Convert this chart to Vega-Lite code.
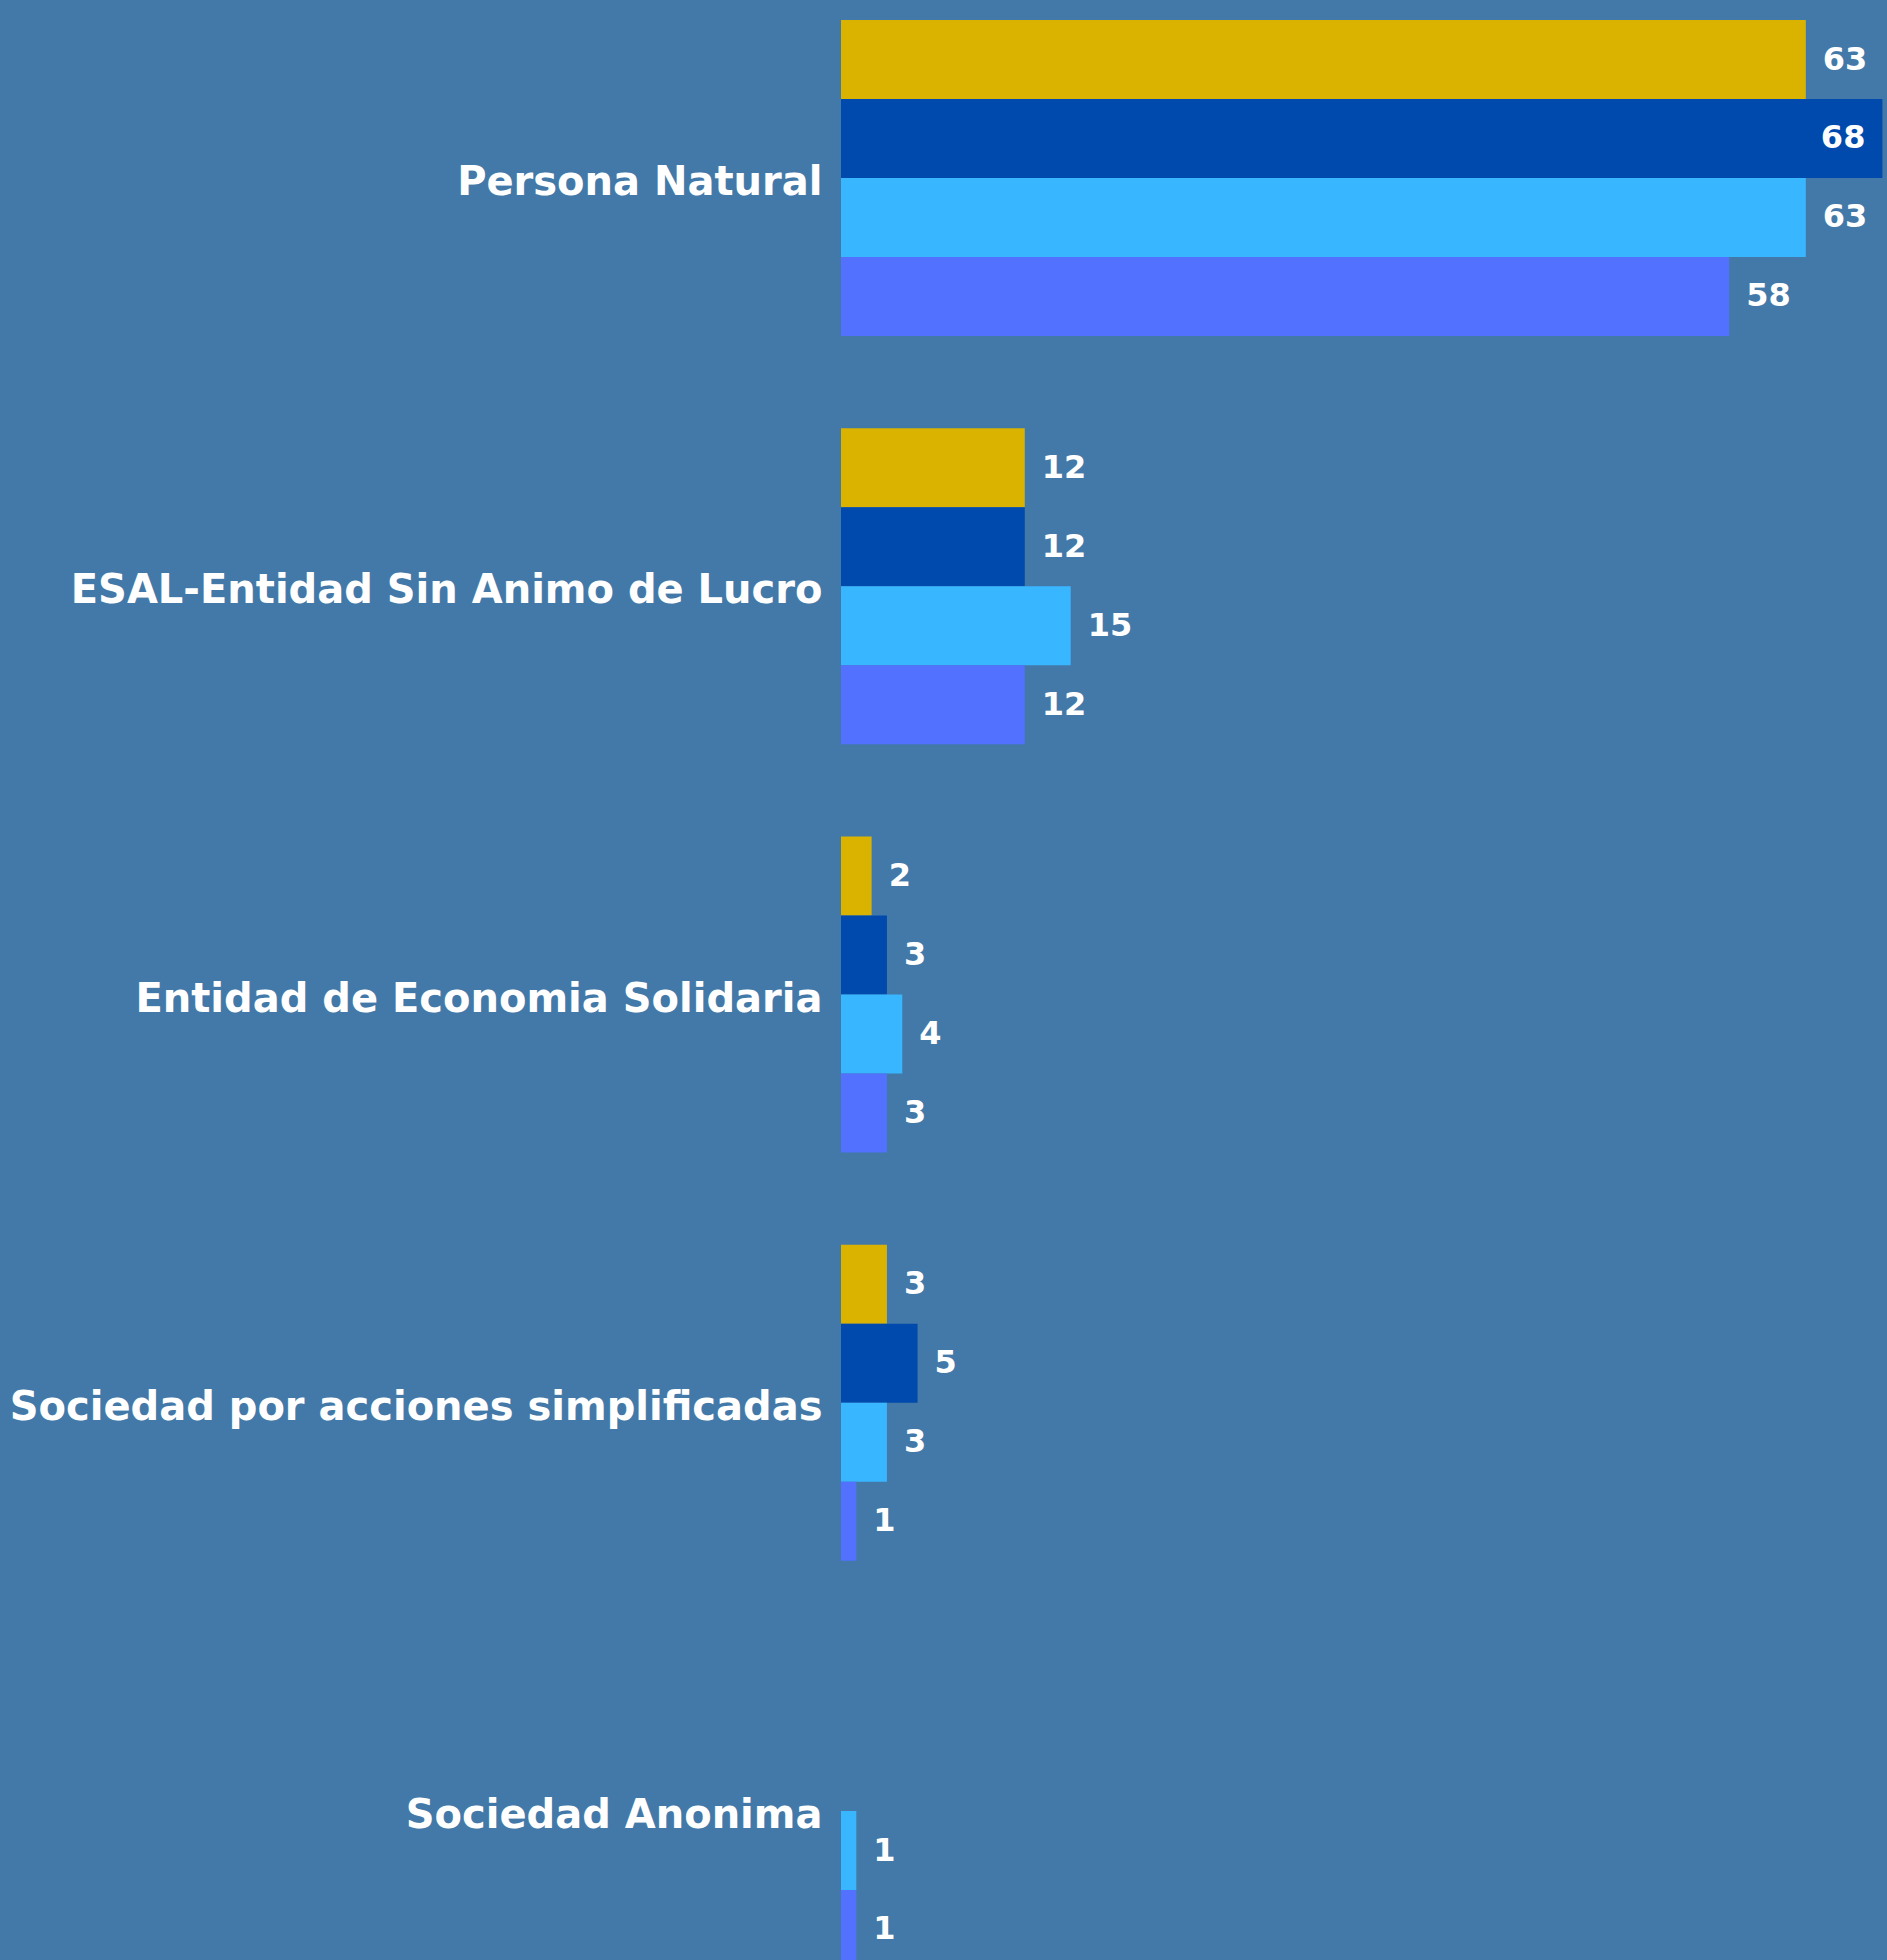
{
  "$schema": "https://vega.github.io/schema/vega-lite/v6.json",
  "autosize": {"type": "none"},
  "padding": {"left": 841, "top": 0, "right": 0, "bottom": 0},
  "width": 1046,
  "height": 1960,
  "background": "#4379a8",
  "config": {
    "view": {"stroke": null},
    "font": "DejaVu Sans"
  },
  "data": {
    "values": [
      {"categoria": "Persona Natural", "serie": "2020", "valor": 63},
      {"categoria": "Persona Natural", "serie": "2021", "valor": 68},
      {"categoria": "Persona Natural", "serie": "2022", "valor": 63},
      {"categoria": "Persona Natural", "serie": "2023", "valor": 58},
      {"categoria": "ESAL-Entidad Sin Animo de Lucro", "serie": "2020", "valor": 12},
      {"categoria": "ESAL-Entidad Sin Animo de Lucro", "serie": "2021", "valor": 12},
      {"categoria": "ESAL-Entidad Sin Animo de Lucro", "serie": "2022", "valor": 15},
      {"categoria": "ESAL-Entidad Sin Animo de Lucro", "serie": "2023", "valor": 12},
      {"categoria": "Entidad de Economia Solidaria", "serie": "2020", "valor": 2},
      {"categoria": "Entidad de Economia Solidaria", "serie": "2021", "valor": 3},
      {"categoria": "Entidad de Economia Solidaria", "serie": "2022", "valor": 4},
      {"categoria": "Entidad de Economia Solidaria", "serie": "2023", "valor": 3},
      {"categoria": "Sociedad por acciones simplificadas", "serie": "2020", "valor": 3},
      {"categoria": "Sociedad por acciones simplificadas", "serie": "2021", "valor": 5},
      {"categoria": "Sociedad por acciones simplificadas", "serie": "2022", "valor": 3},
      {"categoria": "Sociedad por acciones simplificadas", "serie": "2023", "valor": 1},
      {"categoria": "Sociedad Anonima", "serie": "2022", "valor": 1},
      {"categoria": "Sociedad Anonima", "serie": "2023", "valor": 1}
    ]
  },
  "encoding": {
    "y": {
      "field": "categoria",
      "type": "nominal",
      "sort": null,
      "title": null,
      "scale": {"range": [0, 1989], "paddingInner": 0.226, "paddingOuter": 0.049},
      "axis": {
        "domain": false,
        "ticks": false,
        "grid": false,
        "labelPadding": 19,
        "labelOffset": 5,
        "labelFontSize": 40,
        "labelFontWeight": "bold",
        "labelColor": "#ffffff",
        "labelFont": "DejaVu Sans",
        "labelLimit": 1000
      }
    },
    "yOffset": {
      "field": "serie",
      "type": "nominal",
      "sort": ["2020", "2021", "2022", "2023"],
      "scale": {"domain": ["2020", "2021", "2022", "2023"], "paddingInner": 0, "paddingOuter": 0}
    },
    "x": {
      "field": "valor",
      "type": "quantitative",
      "scale": {"domain": [0, 68.3], "nice": false, "zero": true},
      "axis": null
    }
  },
  "layer": [
    {
      "mark": {"type": "bar", "clip": false},
      "encoding": {
        "color": {
          "field": "serie",
          "type": "nominal",
          "scale": {"domain": ["2020", "2021", "2022", "2023"], "range": ["#d9b300", "#004aad", "#38b6ff", "#5271ff"]},
          "legend": null
        }
      }
    },
    {
      "transform": [{"filter": "datum.valor < 66"}],
      "mark": {"type": "text", "align": "left", "baseline": "middle", "dx": 17, "fontSize": 32, "fontWeight": "bold", "color": "#ffffff", "font": "DejaVu Sans"},
      "encoding": {"text": {"field": "valor", "type": "quantitative"}}
    },
    {
      "transform": [{"filter": "datum.valor >= 66"}],
      "mark": {"type": "text", "align": "right", "baseline": "middle", "dx": -17, "fontSize": 32, "fontWeight": "bold", "color": "#ffffff", "font": "DejaVu Sans"},
      "encoding": {"text": {"field": "valor", "type": "quantitative"}}
    }
  ]
}
